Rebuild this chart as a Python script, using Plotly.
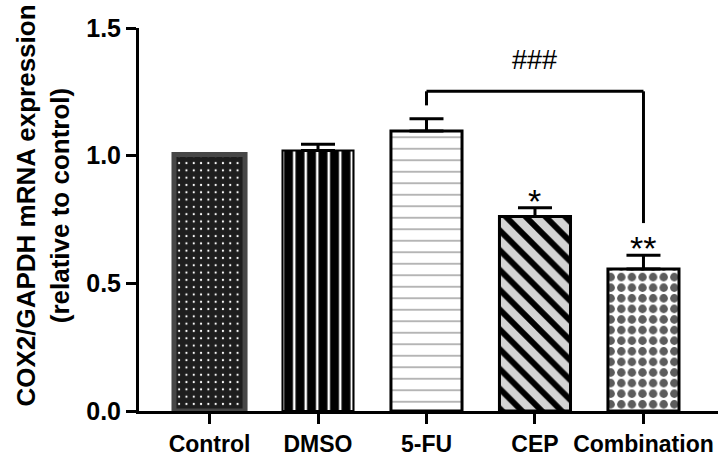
import plotly.graph_objects as go

categories = ["Control", "DMSO", "5-FU", "CEP", "Combination"]
values = [1.005, 1.02, 1.097, 0.762, 0.556]
errors = [0.0, 0.025, 0.048, 0.034, 0.054]
stars = ["", "", "", "*", "**"]
y_ticks = [0.0, 0.5, 1.0, 1.5]
bracket_top = 1.252
hash_label = "###"

fills = ["#1e1e1e", "#000000", "#ffffff", "#d4d4d4", "#ffffff"]
shapes_p = [".", "|", "-", "\\", "."]
fgs = ["#ffffff", "#ffffff", "#a0a0a0", "#000000", "#5c5c5c"]
sizes = [7.3, 11.5, 11.5, 14, 10.6]
solid = [0.07, 0.22, 0.13, 0.42, 0.5]
borders = ["#474747", "#000000", "#000000", "#000000", "#000000"]
bwidth = [5, 2, 3, 3, 3]

fig = go.Figure()
for i, c in enumerate(categories):
    fig.add_trace(go.Bar(
        x=[c], y=[values[i]],
        marker=dict(color=fills[i],
                    line=dict(color=borders[i], width=bwidth[i]),
                    pattern=dict(shape=shapes_p[i], fgcolor=fgs[i], bgcolor=fills[i],
                                 size=sizes[i], solidity=solid[i], fgopacity=1,
                                 fillmode="replace")),
        error_y=dict(type="data", symmetric=False, array=[errors[i]], arrayminus=[0],
                     color="black", thickness=3, width=17, visible=errors[i] > 0),
        showlegend=False,
    ))

font = "Liberation Sans, Arial, sans-serif"
annotations = []
for i, s in enumerate(stars):
    if s:
        annotations.append(dict(x=categories[i], y=values[i] + errors[i], text=s,
                                showarrow=False, yanchor="bottom", xref="x", yref="y",
                                yshift=-14,
                                font=dict(family=font, size=34, color="black")))

# bracket between 5-FU and Combination
i1, i2 = 2, 4
shapes = [
    dict(type="line", xref="x", yref="y", x0=i1, x1=i1, y0=values[i1] + errors[i1] + 0.052, y1=bracket_top,
         line=dict(color="black", width=3)),
    dict(type="line", xref="x", yref="y", x0=i1, x1=i2, y0=bracket_top, y1=bracket_top,
         line=dict(color="black", width=3)),
    dict(type="line", xref="x", yref="y", x0=i2, x1=i2, y0=bracket_top, y1=values[i2] + errors[i2] + 0.126,
         line=dict(color="black", width=3)),
]
annotations.append(dict(x=(i1 + i2) / 2, y=1.374, text=hash_label, showarrow=False,
                        xref="x", yref="y", yanchor="middle",
                        font=dict(family=font, size=27, color="black")))

annotations.append(dict(x=0, y=0.535, xref="paper", yref="paper", xanchor="center", yanchor="middle",
                        xshift=-95.5, textangle=-90, showarrow=False,
                        text="COX2/GAPDH mRNA expression<br>(relative to control)",
                        font=dict(family=font, size=26, color="black", weight="bold")))

fig.update_layout(
    width=718, height=463,
    margin=dict(l=139, r=0, t=28, b=52, autoexpand=False),
    paper_bgcolor="white", plot_bgcolor="white",
    bargap=0.345,
    shapes=shapes, annotations=annotations,
    xaxis=dict(range=[-0.65, 4.687], showline=True, linecolor="black", linewidth=3,
               ticks="outside", ticklen=10, tickwidth=3, tickcolor="black",
               tickfont=dict(family=font, size=23, color="black", weight="bold"),
               showgrid=False, zeroline=False),
    yaxis=dict(range=[0, 1.5], tickvals=y_ticks, ticktext=[f"{v:.1f}" for v in y_ticks],
               showline=True, linecolor="black", linewidth=3,
               ticks="outside", ticklen=10, tickwidth=3, tickcolor="black",
               tickfont=dict(family=font, size=25, color="black", weight="bold"),
               showgrid=False, zeroline=False),
)
fig.write_html("out.html", config={"displayModeBar": False},
               post_script="document.body.style.margin='0';document.body.style.padding='0';")
